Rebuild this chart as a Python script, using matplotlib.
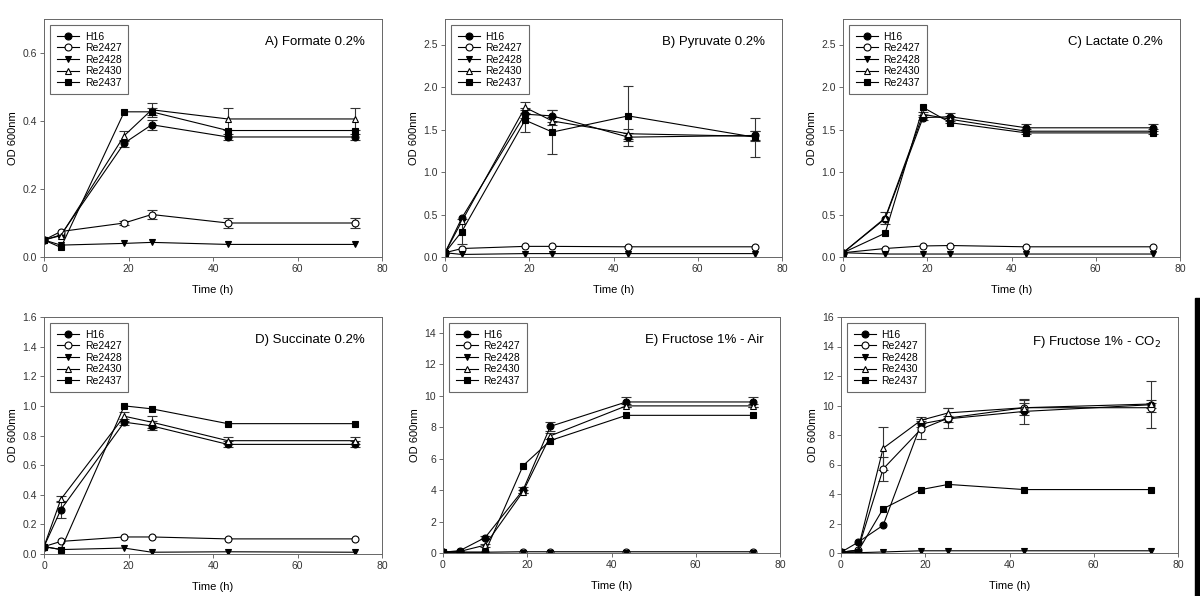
import numpy as np
import matplotlib
matplotlib.use("Agg")
import matplotlib.pyplot as plt
from matplotlib.patches import Rectangle
from matplotlib.lines import Line2D

plt.rcParams["font.family"] = ["Liberation Sans", "DejaVu Sans"]

strains = ["H16", "Re2427", "Re2428", "Re2430", "Re2437"]
markers = ["o", "o", "v", "^", "s"]
fills = ["black", "white", "black", "white", "black"]

# A) Formate 0.2%
a_time = [0, 4, 19, 25.5, 43.5, 73.5]
a_vals = [[0.05, 0.065, 0.335, 0.389, 0.353, 0.353],
          [0.05, 0.075, 0.10, 0.125, 0.10, 0.10],
          [0.05, 0.035, 0.04, 0.043, 0.037, 0.037],
          [0.05, 0.063, 0.357, 0.433, 0.406, 0.406],
          [0.05, 0.028, 0.427, 0.427, 0.372, 0.372]]
a_err = [[0, 0, 0.01, 0.015, 0.01, 0.01],
         [0, 0, 0.007, 0.012, 0.015, 0.015],
         [0, 0, 0, 0, 0, 0],
         [0, 0, 0.015, 0.02, 0.033, 0.033],
         [0, 0, 0, 0.01, 0, 0]]

# B) Pyruvate 0.2%
b_time = [0, 4, 19, 25.5, 43.5, 73.5]
b_vals = [[0.05, 0.46, 1.68, 1.66, 1.41, 1.43],
          [0.05, 0.10, 0.125, 0.125, 0.12, 0.12],
          [0.05, 0.03, 0.04, 0.04, 0.04, 0.04],
          [0.05, 0.42, 1.76, 1.60, 1.45, 1.42],
          [0.05, 0.30, 1.61, 1.47, 1.66, 1.41]]
b_err = [[0, 0, 0.05, 0.07, 0.05, 0.05],
         [0, 0, 0, 0, 0, 0],
         [0, 0, 0, 0, 0, 0],
         [0, 0, 0.06, 0.05, 0.06, 0.06],
         [0, 0.15, 0.14, 0.26, 0.35, 0.23]]

# C) Lactate 0.2%
c_time = [0, 10, 19, 25.5, 43.5, 73.5]
c_vals = [[0.05, 0.45, 1.64, 1.65, 1.52, 1.52],
          [0.05, 0.10, 0.13, 0.135, 0.12, 0.12],
          [0.05, 0.035, 0.035, 0.035, 0.035, 0.035],
          [0.05, 0.46, 1.68, 1.62, 1.48, 1.48],
          [0.05, 0.28, 1.76, 1.58, 1.46, 1.46]]
c_err = [[0, 0, 0.03, 0.05, 0.04, 0.04],
         [0, 0, 0, 0, 0, 0],
         [0, 0, 0, 0, 0, 0],
         [0, 0.07, 0.03, 0.04, 0.03, 0.03],
         [0, 0, 0, 0, 0, 0]]

# D) Succinate 0.2%
d_time = [0, 4, 19, 25.5, 43.5, 73.5]
d_vals = [[0.05, 0.30, 0.89, 0.865, 0.74, 0.74],
          [0.05, 0.085, 0.115, 0.115, 0.102, 0.102],
          [0.05, 0.03, 0.04, 0.012, 0.015, 0.012],
          [0.05, 0.37, 0.93, 0.89, 0.765, 0.765],
          [0.05, 0.03, 1.00, 0.98, 0.88, 0.88]]
d_err = [[0, 0.06, 0.02, 0.03, 0.02, 0.02],
         [0, 0, 0, 0, 0, 0],
         [0, 0, 0, 0, 0, 0],
         [0, 0.02, 0.03, 0.04, 0.025, 0.025],
         [0, 0, 0, 0, 0, 0]]

# E) Fructose 1% - Air
e_time = [0, 4, 10, 19, 25.5, 43.5, 73.5]
e_vals = [[0.05, 0.15, 0.98, 4.0, 8.05, 9.6, 9.6],
          [0.05, 0.05, 0.05, 0.08, 0.08, 0.08, 0.08],
          [0.03, 0.03, 0.03, 0.03, 0.03, 0.03, 0.03],
          [0.05, 0.10, 0.50, 3.9, 7.45, 9.35, 9.35],
          [0.05, 0.05, 0.05, 5.55, 7.15, 8.75, 8.75]]
e_err = [[0, 0, 0.1, 0.2, 0.3, 0.3, 0.3],
         [0, 0, 0, 0, 0, 0, 0],
         [0, 0, 0, 0, 0, 0, 0],
         [0, 0, 0.1, 0.1, 0.2, 0.1, 0.1],
         [0, 0, 0, 0, 0, 0, 0]]

# F) Fructose 1% - CO2
f_time = [0, 4, 10, 19, 25.5, 43.5, 73.5]
f_vals = [[0.05, 0.72, 1.88, 8.75, 9.1, 9.6, 10.05],
          [0.05, 0.2, 5.7, 8.4, 9.15, 9.85, 9.85],
          [0.05, 0.02, 0.07, 0.15, 0.15, 0.15, 0.15],
          [0.05, 0.2, 7.1, 9.0, 9.5, 9.85, 10.1],
          [0.05, 0.1, 3.0, 4.3, 4.65, 4.3, 4.3]]
f_err = [[0, 0, 0, 0.2, 0.2, 0.85, 1.6],
         [0, 0, 0.8, 0.7, 0.7, 0.3, 0.3],
         [0, 0, 0, 0, 0, 0, 0],
         [0, 0, 1.45, 0.2, 0.35, 0.5, 0.3],
         [0, 0, 0, 0, 0, 0, 0]]

panels = [
    ("A) Formate 0.2%", a_time, a_vals, a_err, 0.7, [0, 0.2, 0.4, 0.6], "%.1f"),
    ("B) Pyruvate 0.2%", b_time, b_vals, b_err, 2.8, [0, 0.5, 1.0, 1.5, 2.0, 2.5], "%.1f"),
    ("C) Lactate 0.2%", c_time, c_vals, c_err, 2.8, [0, 0.5, 1.0, 1.5, 2.0, 2.5], "%.1f"),
    ("D) Succinate 0.2%", d_time, d_vals, d_err, 1.6, [0, 0.2, 0.4, 0.6, 0.8, 1.0, 1.2, 1.4, 1.6], "%.1f"),
    ("E) Fructose 1% - Air", e_time, e_vals, e_err, 15, [0, 2, 4, 6, 8, 10, 12, 14], "%d"),
    ("F) Fructose 1% - CO$_2$", f_time, f_vals, f_err, 16, [0, 2, 4, 6, 8, 10, 12, 14, 16], "%d"),
]

# axes boxes in pixels: left, right, top, bottom
boxes = [(44, 382, 19, 257), (445, 782, 19, 257), (843, 1180, 19, 257),
         (44, 382, 317, 554), (443, 780, 317, 553), (841, 1178, 317, 553)]

W, H = 1200, 596
fig = plt.figure(figsize=(12, 5.96), dpi=100)

for (title, t, vals, errs, ymax, yticks, fmt), (l, r, tp, b) in zip(panels, boxes):
    ax = fig.add_axes([l / W, 1 - b / H, (r - l) / W, (b - tp) / H])
    handles = []
    for name, m, fc, v, e in zip(strains, markers, fills, vals, errs):
        e = np.array(e, dtype=float)
        ax.errorbar(t, v, yerr=np.where(e > 0, e, np.nan), color="black", lw=0.8,
                    marker=m, markersize=5, mfc=fc, mec="black", mew=0.8,
                    ecolor="#333333", elinewidth=0.8, capsize=3.5)
        handles.append(Line2D([], [], color="black", lw=0.8, marker=m, markersize=5,
                              mfc=fc, mec="black", mew=0.8, label=name))
    ax.set_xlim(0, 80)
    ax.set_ylim(0, ymax)
    ax.set_xticks([0, 20, 40, 60, 80])
    ax.set_yticks(yticks)
    ax.set_yticklabels([fmt % y for y in yticks])
    ax.tick_params(direction="out", length=3, width=0.6, labelsize=7.5,
                   labelcolor="#333333", color="#555555", pad=2)
    for s in ax.spines.values():
        s.set_linewidth(0.7)
        s.set_color("#666666")
    ax.set_xlabel("Time (h)", fontsize=8, labelpad=8)
    ax.set_ylabel("OD 600nm", fontsize=8, labelpad=3)
    ax.text(0.95, 0.93, title, transform=ax.transAxes, ha="right", va="top",
            fontsize=9.5)
    leg = ax.legend(handles=handles, loc="upper left", fontsize=7.5, frameon=True,
                    fancybox=False, borderpad=0.6, handlelength=2.2,
                    handletextpad=0.5, labelspacing=0.15, borderaxespad=0.6)
    leg.get_frame().set_edgecolor("#444444")
    leg.get_frame().set_linewidth(0.8)

# black bar at right edge
fig.patches.append(Rectangle((1195 / W, 0), 5 / W, 1 - 298 / H,
                             transform=fig.transFigure, color="black"))

fig.savefig("out.png", dpi=100)
